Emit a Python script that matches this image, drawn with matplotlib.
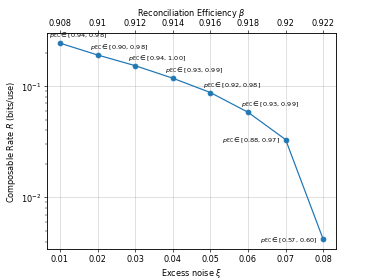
import numpy as np
import matplotlib.pyplot as plt

xi = [0.01, 0.02, 0.03, 0.04, 0.05, 0.06, 0.07, 0.08]
beta = [0.908, 0.91, 0.912, 0.914, 0.916, 0.918, 0.92, 0.922]
rate = [0.244, 0.191, 0.153, 0.118, 0.0877, 0.0583, 0.0331, 0.00419]
p_ec = [(0.94, 0.98), (0.90, 0.98), (0.94, 1.00), (0.93, 0.99),
        (0.92, 0.98), (0.93, 0.99), (0.88, 0.97), (0.57, 0.60)]

fig, ax = plt.subplots(figsize=(6.4, 4.8), dpi=58.4)
ax.plot(xi, rate, marker='o')
ax.set_yscale('log')
ax.set_xlabel(r'Excess noise $\xi$')
ax.set_ylabel(r'Composable Rate $R$ (bits/use)')
ax.grid(True, alpha=0.6)

for i, (x, r) in enumerate(zip(xi, rate)):
    txt = r'$p_{\rm EC}\in$' + '[%.2f, %.2f]' % p_ec[i]
    if i >= 6:
        ax.annotate(txt, (x, r), xytext=(-7, 0), textcoords='offset points',
                    ha='right', va='center', fontsize=8)
    else:
        dx = -14 if i == 0 else -9
        ax.annotate(txt, (x, r), xytext=(dx, 4), textcoords='offset points',
                    ha='left', va='bottom', fontsize=8)

ax2 = ax.twiny()
ax2.set_xlim(ax.get_xlim())
ax2.set_xticks(xi)
ax2.set_xticklabels([str(b) for b in beta])
ax2.set_xlabel(r'Reconciliation Efficiency $\beta$')

plt.savefig('out.png')
plt.close()
